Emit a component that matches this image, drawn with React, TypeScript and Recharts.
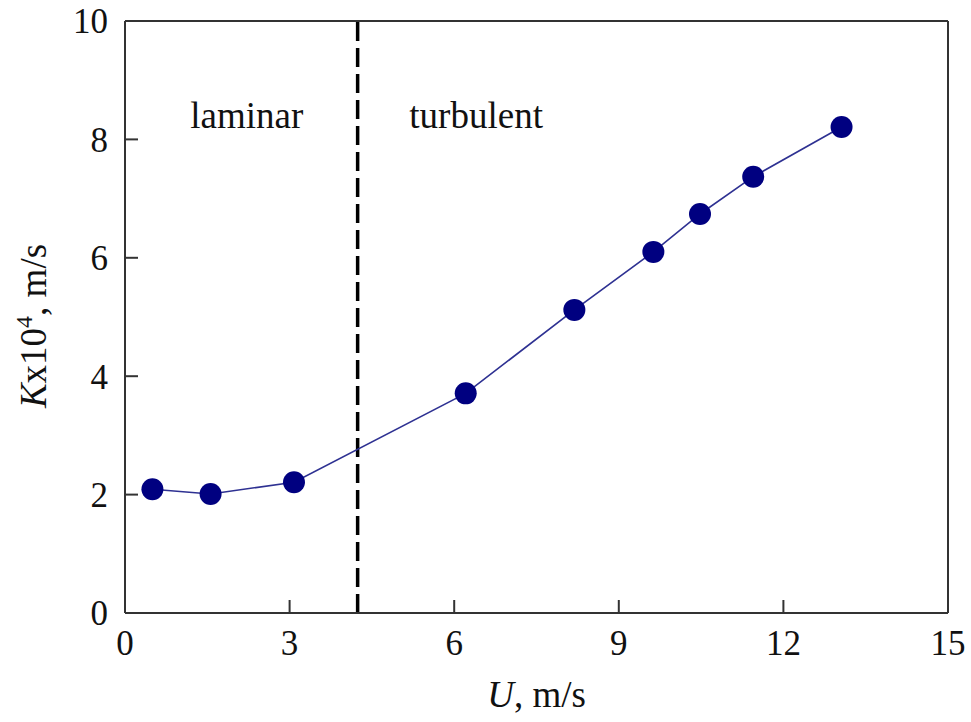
import React from "react";
import {
  LineChart,
  Line,
  XAxis,
  YAxis,
  ReferenceLine,
  ReferenceDot,
} from "recharts";

// flow velocity U (m/s) and mass transfer coefficient K x 10^4 (m/s)
const uValues = [0.5, 1.56, 3.08, 6.21, 8.19, 9.63, 10.48, 11.45, 13.06];
const kValues = [2.09, 2.01, 2.21, 3.71, 5.12, 6.1, 6.74, 7.37, 8.21];

const xTicks = [0, 3, 6, 9, 12, 15];
const yTicks = [0, 2, 4, 6, 8, 10];

const transitionU = 4.24;
const regimes = [
  { label: "laminar", u: 2.22, k: 8.41 },
  { label: "turbulent", u: 6.4, k: 8.41 },
];

const data = uValues.map((u, i) => ({ u, k: kValues[i] }));

const FONT = "'Liberation Serif', 'DejaVu Serif', serif";
const AXIS = "#333";

const XLabel = (props: any) => {
  const vb = props.viewBox || {};
  const cx = (vb.x ?? 125) + (vb.width ?? 823) / 2;
  return (
    <text x={cx} y={707} textAnchor="middle" fontFamily={FONT} fontSize={37} fill="#111">
      <tspan fontStyle="italic">U</tspan>, m/s
    </text>
  );
};

const YLabel = () => {
  const cx = 46;
  const cy = 326;
  return (
    <text
      x={cx}
      y={cy}
      transform={`rotate(-90, ${cx}, ${cy})`}
      textAnchor="middle"
      fontFamily={FONT}
      fontSize={37}
      fill="#111"
    >
      <tspan fontStyle="italic">K</tspan>x10
      <tspan dy={-14} fontSize={24}>4</tspan>
      <tspan dy={14}>, m/s</tspan>
    </text>
  );
};

export default function App() {
  return (
    <div style={{ position: "absolute", left: 0, top: 0, background: "#fff" }}>
      <LineChart
        width={971}
        height={722}
        data={data}
        margin={{ top: 21, right: 23, left: 0, bottom: 0 }}
      >
        <XAxis
          type="number"
          dataKey="u"
          domain={[0, 15]}
          ticks={xTicks}
          height={109}
          tickSize={-13}
          tickMargin={30}
          axisLine={{ stroke: AXIS, strokeWidth: 2 }}
          tickLine={{ stroke: AXIS, strokeWidth: 2 }}
          tick={{ fill: "#111", fontSize: 35, fontFamily: FONT }}
          label={<XLabel />}
        />
        <YAxis
          type="number"
          domain={[0, 10]}
          ticks={yTicks}
          width={125}
          tickSize={-13}
          tickMargin={30}
          axisLine={{ stroke: AXIS, strokeWidth: 2 }}
          tickLine={{ stroke: AXIS, strokeWidth: 2 }}
          tick={{ fill: "#111", fontSize: 35, fontFamily: FONT }}
          label={<YLabel />}
        />
        <ReferenceLine y={10} stroke={AXIS} strokeWidth={2} />
        <ReferenceLine x={15} stroke={AXIS} strokeWidth={2} />
        <ReferenceLine
          x={transitionU}
          stroke="#000"
          strokeWidth={3.5}
          strokeDasharray="19 7"
        />
        {regimes.map((r) => (
          <ReferenceDot
            key={r.label}
            x={r.u}
            y={r.k}
            r={0}
            fill="none"
            stroke="none"
            label={{
              value: r.label,
              position: "center",
              fontSize: 37,
              fontFamily: FONT,
              fill: "#111",
            }}
          />
        ))}
        <Line
          type="linear"
          dataKey="k"
          stroke="#2e3192"
          strokeWidth={1.6}
          dot={{ r: 11, fill: "#000080", stroke: "none" }}
          activeDot={false}
          isAnimationActive={false}
        />
      </LineChart>
    </div>
  );
}
